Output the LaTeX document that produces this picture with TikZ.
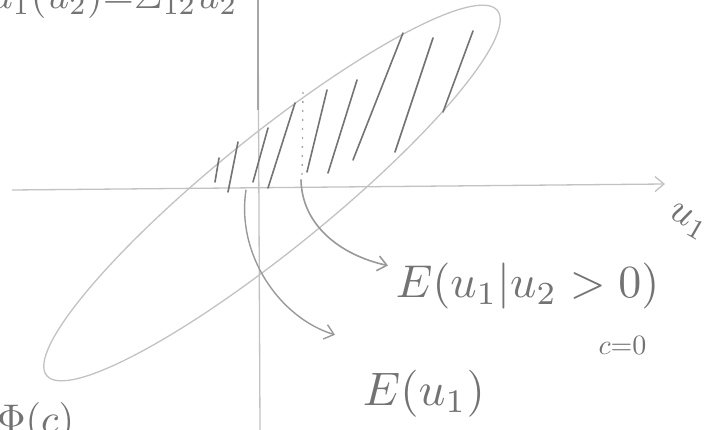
\documentclass[tikz,border=0pt]{standalone}
\usepackage{amsmath, amssymb}
\usepackage{xcolor}
\usepackage{tikz}
\usetikzlibrary{calc, arrows.meta}

\definecolor{pencil}{gray}{0.45}
\definecolor{lightpencil}{gray}{0.76}

\begin{document}
\begin{tikzpicture}[x=1pt, y=-1pt, >={Straight Barb[length=9pt, width=15pt]},
    axis/.style={draw=lightpencil, line width=1.3pt},
    hatch/.style={draw=pencil, line width=1.6pt, line cap=round},
    lbl/.style={text=pencil, inner sep=0pt},
    arr/.style={->, draw=gray!80, line width=1.4pt, line cap=round}]
    \path[use as bounding box, clip] (0,0) rectangle (723,430);

    % axes
    \draw[axis, ->] (12,190) -- (665,184);
    \draw[axis] (258,0) -- (260,430);
    \draw[draw=gray!70, line width=1.3pt] (258,0) -- (258,110);
    \node[lbl, rotate=-30, scale=4] (u1) at (688,222) {$u_1$};

    % ellipse
    \coordinate (c) at (272,193);
    \draw[axis, rotate around={39:(c)}] (c) ellipse [x radius=290, y radius=57];

    % shaded part, u_2 > 0
    \foreach \xa/\ya/\xb/\yb in {215/182/219/158, 228/192/238/142, 253/182/268/128,
        268/188/295/103, 307/172/327/90, 328/173/357/80, 353/160/403/33,
        395/152/433/38, 443/112/473/31}
        \draw[hatch] (\xa,\ya) -- (\xb,\yb);
    \draw[draw=gray!70, line width=1.3pt, dash pattern=on 2pt off 7pt] (303,92) -- (302,178);

    % labels
    \node[lbl, anchor=base west, scale=4] (cond) at (-12,9) {$\mu_1(u_2){=}\Sigma_{12}u_2$};
    \node[lbl, anchor=base west, scale=4.6] (e1) at (395,298) {$E(u_1|u_2>0)$};
    \node[lbl, anchor=base west, scale=4.7] (e0) at (362,405) {$E(u_1)$};
    \node[lbl, anchor=base west, scale=2.8] (c0) at (598,355) {$c{=}0$};
    \node[lbl, anchor=base west, scale=4] (phi) at (-4,432) {$\Phi(c)$};

    % arrows
    \coordinate (s1) at (301,180);
    \coordinate (s0) at (246,190);
    \draw[arr, line width=1.6pt] (s1) .. controls (302,225) and (340,255) .. ([xshift=-7pt, yshift=-3pt]e1.north west);
    \draw[arr] (s0) .. controls (236,255) and (280,318) .. ([xshift=-27pt, yshift=34pt]e0.north west);
\end{tikzpicture}
\end{document}
